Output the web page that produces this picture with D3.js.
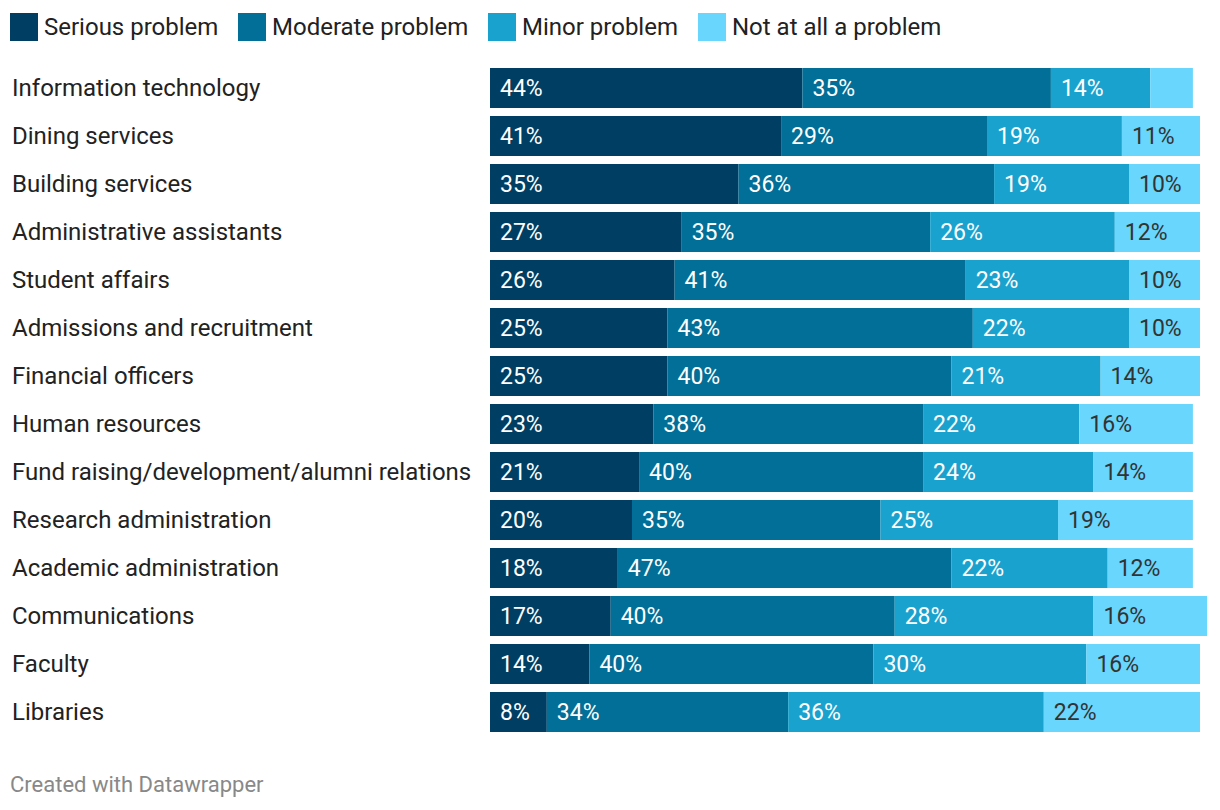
<!DOCTYPE html>
<html><head><meta charset="utf-8">
<script src="https://cdn.jsdelivr.net/npm/d3@7"></script>
<style>
body{margin:0;background:#fff;}
svg{font-family:Roboto,"Noto Sans",sans-serif;}
</style></head>
<body><svg id="c" width="1220" height="810"></svg>
<script>
const categories = ["Information technology","Dining services","Building services","Administrative assistants","Student affairs","Admissions and recruitment","Financial officers","Human resources","Fund raising/development/alumni relations","Research administration","Academic administration","Communications","Faculty","Libraries"];
const seriesNames = ["Serious problem","Moderate problem","Minor problem","Not at all a problem"];
const serious  = [44,41,35,27,26,25,25,23,21,20,18,17,14,8];
const moderate = [35,29,36,35,41,43,40,38,40,35,47,40,40,34];
const minor    = [14,19,19,26,23,22,21,22,24,25,22,28,30,36];
const notAtAll = [6,11,10,12,10,10,14,16,14,19,12,16,16,22];
const colors = ["#003e63","#016f98","#1aa2cf","#69d6fd"];
const labelColors = ["#fff","#fff","#fff","#333"];

const rows = categories.map((c,i)=>({cat:c, "Serious problem":serious[i], "Moderate problem":moderate[i], "Minor problem":minor[i], "Not at all a problem":notAtAll[i]}));
const stack = d3.stack().keys(seriesNames)(rows);

const svg = d3.select("#c");
const x = d3.scaleLinear().domain([0,100]).range([490,1200]);
const y = d3.scaleBand().domain(categories).range([64,736]).paddingInner(8/48).paddingOuter(4/48);

// legend
const leg = svg.append("g");
const legX = [10,238,488,698];
seriesNames.forEach((s,i)=>{
  leg.append("rect").attr("x",legX[i]).attr("y",13).attr("width",28).attr("height",28).attr("fill",colors[i]);
  leg.append("text").attr("x",legX[i]+34).attr("y",35).attr("font-size",24).attr("fill","#222").text(s);
});

// category labels
svg.append("g").selectAll("text").data(categories).join("text")
  .attr("x",12).attr("y",d=>y(d)+y.bandwidth()/2+8)
  .attr("font-size",24).attr("fill","#222").text(d=>d);

// bars
stack.forEach((layer,si)=>{
  const g = svg.append("g");
  g.selectAll("rect").data(layer).join("rect")
    .attr("x",d=>x(d[0])).attr("y",d=>y(d.data.cat))
    .attr("width",d=>x(d[1])-x(d[0])).attr("height",y.bandwidth())
    .attr("fill",colors[si]);
  g.selectAll("text").data(layer.filter(d=>d[1]-d[0]>=7)).join("text")
    .attr("x",d=>x(d[0])+10).attr("y",d=>y(d.data.cat)+y.bandwidth()/2+8)
    .attr("font-size",23).attr("fill",labelColors[si])
    .text(d=>(d[1]-d[0])+"%");
});

svg.append("text").attr("x",10).attr("y",792).attr("font-size",22).attr("fill","#888").text("Created with Datawrapper");
</script></body></html>
